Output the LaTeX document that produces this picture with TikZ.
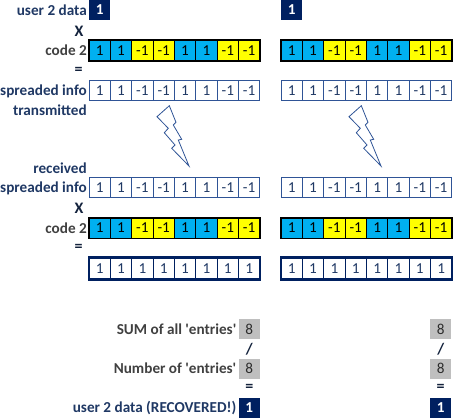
\documentclass[tikz,border=0pt]{standalone}
\usepackage{fontspec}
\setmainfont{Carlito}
\definecolor{DataNavy}{RGB}{0,32,96}
\definecolor{LabelNavy}{RGB}{31,56,100}
\definecolor{LabelGray}{RGB}{64,64,64}
\definecolor{CellLine}{RGB}{47,84,150}
\definecolor{CodeBlue}{RGB}{0,176,240}
\definecolor{CodeYellow}{RGB}{255,255,0}
\definecolor{SumGray}{RGB}{191,191,191}
\tikzset{
  cell/.style={draw=CellLine,line width=.8pt,minimum width=21.35pt,minimum height=20pt,inner sep=0pt,text=LabelNavy},
  plusone/.style={cell,draw=black,fill=CodeBlue,text=black},
  minusone/.style={cell,draw=black,fill=CodeYellow,text=black},
  ones/.style={cell,draw=DataNavy},
  databox/.style={minimum width=21.35pt,minimum height=20pt,inner sep=0pt,fill=DataNavy,text=white,font=\fontsize{15.2}{17}\selectfont\bfseries},
  sumbox/.style={minimum width=21.35pt,minimum height=20pt,inner sep=0pt,fill=SumGray,text=LabelGray!70!black},
  navylabel/.style={anchor=east,inner sep=0pt,text=LabelNavy,font=\fontsize{15.2}{17}\selectfont\bfseries},
  graylabel/.style={anchor=east,inner sep=0pt,text=LabelGray,font=\fontsize{15.2}{17}\selectfont\bfseries},
  oper/.style={inner sep=0pt,text=LabelNavy!60!black,font=\fontsize{16}{18}\selectfont\bfseries},
  bolt/.style={draw=CellLine,line width=.8pt,line join=miter},
}
\begin{document}
\begin{tikzpicture}[x=1pt,y=-1pt,font=\fontsize{15.2}{17}\selectfont]
\useasboundingbox (0,0) rectangle (453,418);
% left labels
\node[navylabel] (userlabel) at (87,10) {user 2 data};
\node[oper] (timesa) at (79,31) {X};
\node[graylabel] (codelabela) at (87,50.5) {code 2};
\node[oper] (equalsa) at (78.5,71) {=};
\node[navylabel] (spreadlabela) at (87,91) {spreaded info};
\node[navylabel] (txlabel) at (87,110) {transmitted};
\node[navylabel] (rxlabel) at (87,168.5) {received};
\node[navylabel] (spreadlabelb) at (87,188) {spreaded info};
\node[oper] (timesb) at (79,208) {X};
\node[graylabel] (codelabelb) at (87,228) {code 2};
\node[oper] (equalsb) at (78.5,248) {=};
\node[graylabel] (sumlabel) at (236.5,329.5) {SUM of all \textquotesingle entries\textquotesingle};
\node[graylabel] (numlabel) at (236.5,368.5) {Number of \textquotesingle entries\textquotesingle};
\node[navylabel] (reclabel) at (236.5,408.5) {user 2 data (RECOVERED!)};
% both users' columns
\foreach \xorig/\col in {89/l,281/r}{
  \node[databox] (data\col) at (\xorig+10.7,10) {1};
  \foreach \v/\st [count=\i] in {1/plusone,1/plusone,-1/minusone,-1/minusone,1/plusone,1/plusone,-1/minusone,-1/minusone}{
    \node[\st] (codea\col\i) at (\xorig+10.7+21.35*\i-21.35,50.5) {\v};
    \node[\st] (codeb\col\i) at (\xorig+10.7+21.35*\i-21.35,228) {\v};
    \node[cell] (infoa\col\i) at (\xorig+10.7+21.35*\i-21.35,90.5) {\v};
    \node[cell] (infob\col\i) at (\xorig+10.7+21.35*\i-21.35,187.5) {\v};
    \node[ones] (prod\col\i) at (\xorig+10.7+21.35*\i-21.35,268.5) {1};
  }
  \draw[line width=1.6pt] (codea\col1.north west) rectangle (codea\col8.south east);
  \draw[line width=1.6pt] (codeb\col1.north west) rectangle (codeb\col8.south east);
  \draw[DataNavy,line width=2pt] ([yshift=1.5pt]prod\col1.north west) rectangle ([yshift=-1.5pt]prod\col8.south east);
}
% lightning
\foreach \dx in {0,192}{
  \draw[bolt,xshift=\dx pt] (169.3,105.7)--(157,116.7)--(168.3,128.3)--(164.3,132.7)--(175,145)--(171.7,148.3)--(189,166)--(178.3,140)--(181.7,139.3)--(173.3,125)--(176,122.3)--cycle;
}
% recovered part
\foreach \xorig/\col in {238.6/l,430/r}{
  \node[sumbox] (sum\col) at (\xorig+10.7,329) {8};
  \node[oper] (slash\col) at (\xorig+10.7,349) {/};
  \node[sumbox] (num\col) at (\xorig+10.7,368.5) {8};
  \node[oper] (eq\col) at (\xorig+10.7,388) {=};
  \node[databox] (rec\col) at (\xorig+10.7,408) {1};
}
\end{tikzpicture}
\end{document}
